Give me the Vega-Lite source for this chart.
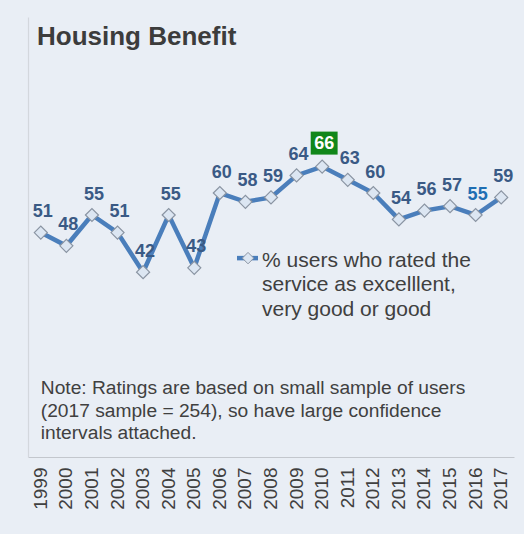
{
  "$schema": "https://vega.github.io/schema/vega-lite/v6.json",
  "width": 486,
  "height": 440,
  "autosize": {"type": "none"},
  "padding": {"left": 28, "top": 17, "right": 10, "bottom": 77},
  "background": "#E9EEF5",
  "title": {
    "text": "Housing Benefit",
    "anchor": "start",
    "frame": "group",
    "fontSize": 26,
    "fontWeight": "bold",
    "font": "Liberation Sans",
    "color": "#3C3C3C",
    "dx": 9,
    "dy": 33,
    "offset": 0
  },
  "config": {"view": {"stroke": null}, "font": "Liberation Sans"},
  "data": {
    "values": [
      {"year": "1999", "value": 51},
      {"year": "2000", "value": 48},
      {"year": "2001", "value": 55},
      {"year": "2002", "value": 51},
      {"year": "2003", "value": 42},
      {"year": "2004", "value": 55},
      {"year": "2005", "value": 43},
      {"year": "2006", "value": 60},
      {"year": "2007", "value": 58},
      {"year": "2008", "value": 59},
      {"year": "2009", "value": 64},
      {"year": "2010", "value": 66},
      {"year": "2011", "value": 63},
      {"year": "2012", "value": 60},
      {"year": "2013", "value": 54},
      {"year": "2014", "value": 56},
      {"year": "2015", "value": 57},
      {"year": "2016", "value": 55},
      {"year": "2017", "value": 59}
    ]
  },
  "encoding": {
    "x": {
      "field": "year",
      "type": "ordinal",
      "axis": {
        "title": null,
        "labelAngle": 270,
        "labelFontSize": 19,
        "labelColor": "#404040",
        "labelPadding": 10,
        "ticks": false,
        "tickSize": 0,
        "domainColor": "#C3C7CD",
        "domainWidth": 1.2,
        "grid": false
      }
    },
    "y": {
      "field": "value",
      "type": "quantitative",
      "scale": {"domain": [0, 100]},
      "axis": {
        "title": null,
        "labels": false,
        "ticks": false,
        "grid": false,
        "domainColor": "#D3D7DD",
        "domainWidth": 1.2
      }
    }
  },
  "layer": [
    {
      "mark": {"type": "line", "strokeWidth": 4.5, "color": "#4A7EBB"}
    },
    {
      "mark": {
        "type": "point",
        "shape": "diamond",
        "filled": true,
        "fill": "#DCE6F2",
        "stroke": "#8A94A2",
        "strokeWidth": 1.2,
        "size": 170,
        "opacity": 1
      }
    },
    {
      "transform": [{"filter": "datum.year == '2010'"}],
      "mark": {
        "type": "point",
        "shape": "M-1.17,-1L1.17,-1L1.17,1L-1.17,1Z",
        "filled": true,
        "fill": "#11871A",
        "opacity": 1,
        "size": 529,
        "xOffset": 2,
        "yOffset": -23.5
      }
    },
    {
      "transform": [{"filter": "datum.year != '2010'"}],
      "mark": {
        "type": "text",
        "fontSize": 18,
        "fontWeight": "bold",
        "baseline": "alphabetic",
        "dx": 2,
        "dy": -15.5
      },
      "encoding": {
        "text": {"field": "value", "type": "quantitative"},
        "color": {
          "condition": {"test": "datum.year == '2016'", "value": "#1F6EB3"},
          "value": "#3A5A85"
        }
      }
    },
    {
      "transform": [{"filter": "datum.year == '2010'"}],
      "mark": {
        "type": "text",
        "fontSize": 18,
        "fontWeight": "bold",
        "baseline": "alphabetic",
        "color": "white",
        "dx": 2,
        "dy": -17.5
      },
      "encoding": {
        "text": {"field": "value", "type": "quantitative"}
      }
    },
    {
      "transform": [{"filter": "datum.year == '2007'"}],
      "mark": {
        "type": "rule",
        "strokeWidth": 4.5,
        "color": "#4A7EBB",
        "xOffset": -8.4,
        "x2Offset": 12.6
      },
      "encoding": {
        "x": {"datum": "2007"},
        "x2": {"datum": "2007"},
        "y": {"datum": 45.2}
      }
    },
    {
      "transform": [{"filter": "datum.year == '2007'"}],
      "mark": {
        "type": "point",
        "shape": "diamond",
        "filled": true,
        "fill": "#DCE6F2",
        "stroke": "#8A94A2",
        "strokeWidth": 1,
        "size": 130,
        "opacity": 1,
        "xOffset": 2.6
      },
      "encoding": {
        "x": {"datum": "2007"},
        "y": {"datum": 45.2}
      }
    },
    {
      "transform": [{"filter": "datum.year == '2007'"}],
      "mark": {
        "type": "text",
        "align": "left",
        "baseline": "top",
        "fontSize": 21,
        "lineHeight": 24.5,
        "color": "#404040",
        "dx": 16.6
      },
      "encoding": {
        "x": {"datum": "2007"},
        "y": {"datum": 47.05},
        "text": {"value": ["% users who rated the", "service as excelllent,", "very good or good"]}
      }
    },
    {
      "transform": [{"filter": "datum.year == '1999'"}],
      "mark": {
        "type": "text",
        "align": "left",
        "baseline": "top",
        "fontSize": 19.2,
        "lineHeight": 22.5,
        "color": "#404040",
        "dx": 0
      },
      "encoding": {
        "x": {"datum": "1999"},
        "y": {"datum": 17.66},
        "text": {"value": ["Note: Ratings are based on  small sample of users", "(2017 sample = 254), so have large confidence", "intervals attached."]}
      }
    }
  ]
}
